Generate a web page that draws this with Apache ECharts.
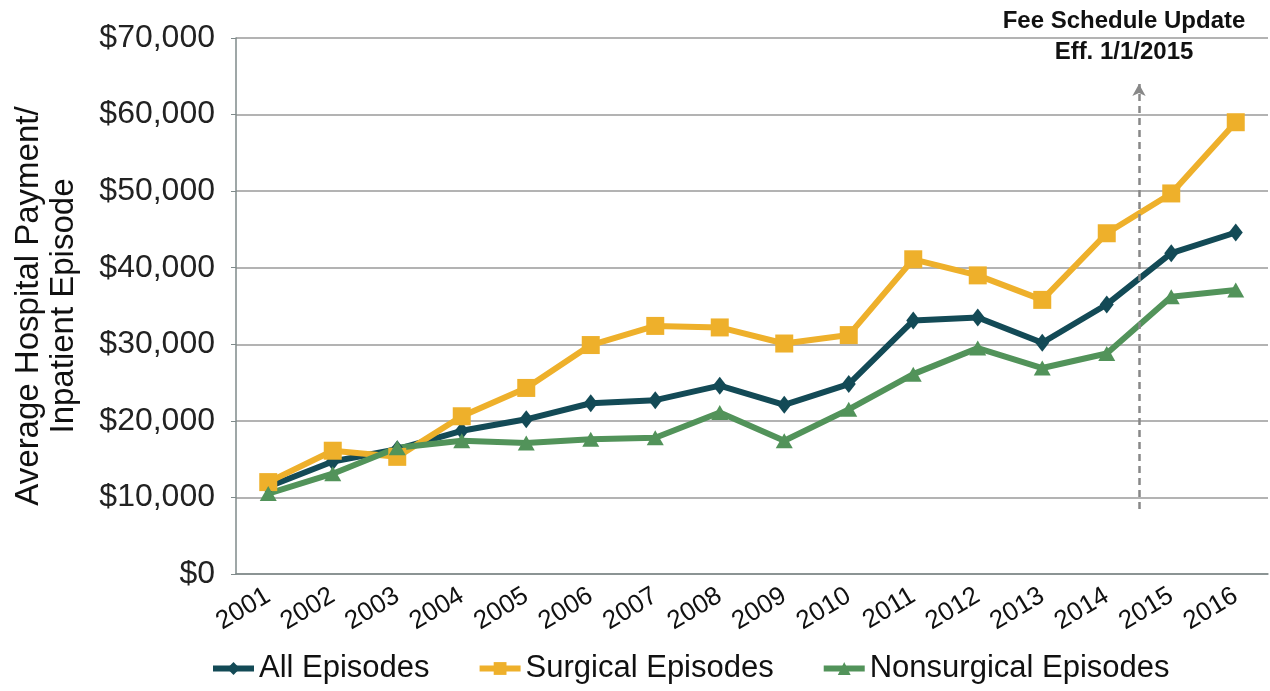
<!DOCTYPE html>
<html lang="en">
<head>
    <meta charset="UTF-8">
    <title>Average Hospital Payment per Inpatient Episode</title>
    <script src="https://cdn.jsdelivr.net/npm/echarts@6/dist/echarts.min.js"></script>
    <style>
        html, body { margin: 0; padding: 0; background: #fff; }
        #main { width: 1270px; height: 691px; }
    </style>
</head>
<body>
<div id="main"></div>
<script>
    var years = ['2001', '2002', '2003', '2004', '2005', '2006', '2007', '2008',
        '2009', '2010', '2011', '2012', '2013', '2014', '2015', '2016'];
    var allEpisodes = [11400, 14700, 16300, 18700, 20200, 22300, 22700, 24600,
        22100, 24800, 33100, 33500, 30200, 35200, 41900, 44600];
    var surgicalEpisodes = [12000, 16100, 15300, 20600, 24300, 29900, 32400, 32200,
        30100, 31200, 41100, 39000, 35800, 44500, 49700, 59000];
    var nonsurgicalEpisodes = [10500, 13100, 16500, 17400, 17100, 17600, 17800, 21100,
        17400, 21500, 26100, 29500, 26900, 28800, 36200, 37100];
    // fee schedule marker sits halfway between 2014 (index 13) and 2015 (index 14)
    var feeUpdateAt = 13.5;
    var feeArrowFrom = 8500;
    var feeArrowTo = 64000;
    var feeNote = 'Fee Schedule Update\nEff. 1/1/2015';

    var chart = echarts.init(document.getElementById('main'));

    var option = {
        animation: false,
        grid: {
            left: 236,
            right: 2,
            top: 38,
            bottom: 117,
            containLabel: false,
            outerBoundsMode: 'none'
        },
        // note above the dashed arrow
        graphic: [{
            type: 'text',
            x: 1124,
            y: 6,
            z: 10,
            style: {
                text: feeNote,
                textAlign: 'center',
                textVerticalAlign: 'top',
                fontFamily: 'Liberation Sans',
                fontWeight: 'bold',
                fontSize: 24,
                lineHeight: 31,
                fill: '#111'
            }
        }],
        legend: {
            left: 205,
            top: 648,
            itemWidth: 41,
            itemHeight: 16,
            itemGap: 47,
            lineStyle: { width: 6 },
            textStyle: {
                fontFamily: 'Liberation Sans',
                fontSize: 31,
                color: '#111'
            },
            data: ['All Episodes', 'Surgical Episodes', 'Nonsurgical Episodes']
        },
        xAxis: [{
            type: 'category',
            data: years,
            axisLine: { lineStyle: { color: '#7f8a8a', width: 1.5 } },
            axisTick: { show: false },
            axisLabel: {
                interval: 0,
                rotate: 31,
                margin: 20,
                fontFamily: 'Liberation Sans',
                fontSize: 26,
                color: '#111'
            }
        }, {
            // hidden index axis, lets the arrow sit between two categories
            type: 'value',
            min: -0.5,
            max: years.length - 0.5,
            show: false
        }],
        yAxis: {
            type: 'value',
            min: 0,
            max: 70000,
            interval: 10000,
            name: 'Average Hospital Payment/\nInpatient Episode',
            nameLocation: 'middle',
            nameRotate: 90,
            nameGap: 155,
            nameTextStyle: {
                fontFamily: 'Liberation Sans',
                fontSize: 33,
                lineHeight: 35,
                color: '#111'
            },
            axisLine: { show: true, onZero: false, lineStyle: { color: '#7f8a8a', width: 1.5 } },
            axisTick: { show: true, length: 5, lineStyle: { color: '#7f8a8a' } },
            axisLabel: {
                margin: 21,
                fontFamily: 'Liberation Sans',
                fontSize: 32,
                color: '#222',
                formatter: function (v) {
                    return '$' + v.toLocaleString('en-US');
                }
            },
            splitLine: { lineStyle: { color: '#9a9a9a', width: 1.5 } }
        },
        series: [{
            name: 'Fee update',
            type: 'line',
            xAxisIndex: 1,
            data: [],
            markLine: {
                silent: true,
                symbol: ['none', 'arrow'],
                symbolSize: [10, 12],
                lineStyle: { color: '#888', type: [7, 5], width: 2.5 },
                label: { show: false },
                data: [[
                    { coord: [feeUpdateAt, feeArrowFrom] },
                    { coord: [feeUpdateAt, feeArrowTo] }
                ]]
            }
        }, {
            name: 'All Episodes',
            type: 'line',
            data: allEpisodes,
            symbol: 'diamond',
            symbolSize: [14, 18],
            lineStyle: { color: '#134a56', width: 6 },
            itemStyle: { color: '#134a56' }
        }, {
            name: 'Surgical Episodes',
            type: 'line',
            data: surgicalEpisodes,
            symbol: 'rect',
            symbolSize: 18,
            lineStyle: { color: '#eeb02b', width: 6 },
            itemStyle: { color: '#eeb02b' }
        }, {
            name: 'Nonsurgical Episodes',
            type: 'line',
            data: nonsurgicalEpisodes,
            symbol: 'triangle',
            symbolSize: [17, 15],
            lineStyle: { color: '#52935a', width: 6 },
            itemStyle: { color: '#52935a' }
        }]
    };

    chart.setOption(option);
</script>
</body>
</html>
